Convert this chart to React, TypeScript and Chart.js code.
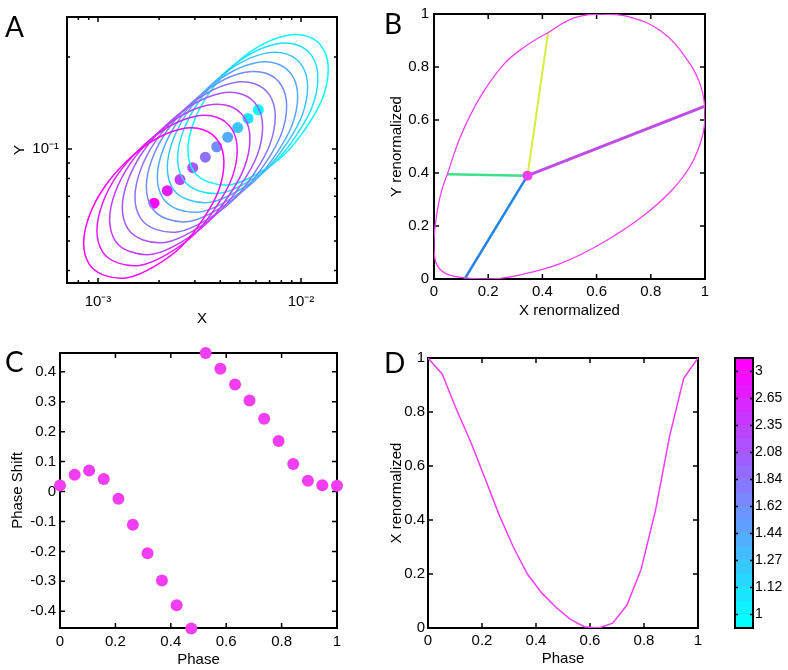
import React, { useEffect, useRef } from 'react';
import { Chart, registerables } from 'chart.js';

Chart.register(...registerables);

const FONT = "'Liberation Sans', Arial, Helvetica, sans-serif";
Chart.defaults.font.family = FONT;
Chart.defaults.font.size = 15;
Chart.defaults.color = '#000';

// ---------- Panel A (log-log limit cycles) ----------
const aCenterX = [0.001888, 0.002195, 0.002535, 0.002927, 0.003378, 0.003844, 0.004355, 0.004877, 0.00548, 0.006162];
const aCenterY = [0.06646, 0.07303, 0.07943, 0.08684, 0.09402, 0.1017, 0.1093, 0.1175, 0.1259, 0.1343];
// contour, as multiples of each cycle's centre
const aContourRatioX = [2.21, 2.08, 1.75, 1.36, 1.0, 0.74, 0.57, 0.48, 0.45, 0.48, 0.57, 0.74, 1.0, 1.36, 1.75, 2.08];
const aContourRatioY = [1.36, 1.59, 1.74, 1.75, 1.61, 1.38, 1.13, 0.91, 0.74, 0.63, 0.58, 0.57, 0.62, 0.72, 0.89, 1.1];
const aXTicks = [0.0008, 0.0009, 0.001, 0.002, 0.003, 0.004, 0.005, 0.006, 0.007, 0.008, 0.009, 0.01];
const aXTickLabels = ['', '', '10\u207B\u00B3', '', '', '', '', '', '', '', '', '10\u207B\u00B2'];
const aXMinorFlags = [true, true, false, true, true, true, true, true, true, true, true, false];
const aYTicks = [0.04, 0.05, 0.06, 0.07, 0.08, 0.09, 0.1, 0.2];
const aYTickLabels = ['', '', '', '', '', '', '10\u207B\u00B9', ''];
const aYMinorFlags = [true, true, true, true, true, true, false, true];

// ---------- Panel B ----------
const bCycleX = [0.0, 0.004, 0.016, 0.03, 0.049, 0.099, 0.172, 0.259, 0.34, 0.421, 0.517, 0.616, 0.714, 0.837, 0.936, 0.985, 1.0, 0.991, 0.948, 0.874, 0.764, 0.616, 0.468, 0.32, 0.21, 0.099, 0.037, 0.006];
const bCycleY = [0.13, 0.2, 0.28, 0.34, 0.395, 0.541, 0.689, 0.812, 0.88, 0.93, 0.985, 1.0, 0.991, 0.936, 0.825, 0.726, 0.627, 0.541, 0.43, 0.331, 0.232, 0.133, 0.059, 0.016, 0.0, 0.006, 0.024, 0.065];
const bCentre = { x: 0.345, y: 0.39 };
const bSpokeX = [0.049, 0.113, 1.0, 0.421];
const bSpokeY = [0.395, 0.0, 0.652, 0.93];
const bSpokeColors = ['#3fe08c', '#2384e6', '#c04ce6', '#d6ee3c'];
const bSpokeWidths = [2.5, 2.5, 3, 2];
const unitTicks = [0, 0.2, 0.4, 0.6, 0.8, 1];
const unitTickLabels = ['0', '0.2', '0.4', '0.6', '0.8', '1'];

// ---------- Panel C ----------
const phase = [0, 0.053, 0.105, 0.158, 0.211, 0.263, 0.316, 0.368, 0.421, 0.474, 0.526, 0.579, 0.632, 0.684, 0.737, 0.789, 0.842, 0.895, 0.947, 1];
const phaseShift = [0.02, 0.056, 0.07, 0.042, -0.024, -0.111, -0.206, -0.297, -0.38, -0.458, 0.463, 0.41, 0.358, 0.304, 0.243, 0.169, 0.092, 0.036, 0.021, 0.019];
const cYTicks = [-0.4, -0.3, -0.2, -0.1, 0, 0.1, 0.2, 0.3, 0.4];
const cYTickLabels = ['-0.4', '-0.3', '-0.2', '-0.1', '0', '0.1', '0.2', '0.3', '0.4'];

// ---------- Panel D ----------
const xRenormalized = [1.0, 0.94, 0.81, 0.69, 0.555, 0.42, 0.3, 0.2, 0.13, 0.077, 0.033, 0.005, 0.0, 0.018, 0.085, 0.217, 0.433, 0.711, 0.925, 1.0];

// ---------- Colour bar ----------
const cbBandCount = 20;
const cbTickPos = [1, 3, 5, 7, 9, 11, 13, 15, 17, 19];
const cbTickLabels = ['1', '1.12', '1.27', '1.44', '1.62', '1.84', '2.08', '2.35', '2.65', '3'];

const MAGENTA = 'rgb(242,62,242)';

function cool(f: number) {
  return `rgb(${Math.round(255 * f)},${Math.round(255 * (1 - f))},255)`;
}

const boxPlugin = {
  id: 'mbox',
  _draw(chart: any, opts: any) {
    const { ctx, chartArea: a } = chart;
    ctx.save();
    ctx.strokeStyle = '#000';
    ctx.lineWidth = opts.tickWidth ?? 1.5;
    const major = opts.tickLen ?? 5;
    const minor = opts.minorLen ?? 3;
    ctx.beginPath();
    if (opts.xTicks !== false) {
      const s = chart.scales.x;
      for (const t of s.ticks) {
        const p = s.getPixelForValue(t.value);
        const len = t.minor ? minor : major;
        ctx.moveTo(p, a.bottom);
        ctx.lineTo(p, a.bottom - len);
        ctx.moveTo(p, a.top);
        ctx.lineTo(p, a.top + len);
      }
    }
    if (opts.yTicks !== false) {
      const s = chart.scales.y;
      for (const t of s.ticks) {
        const p = s.getPixelForValue(t.value);
        const len = t.minor ? minor : major;
        ctx.moveTo(a.left, p);
        ctx.lineTo(a.left + len, p);
        ctx.moveTo(a.right, p);
        ctx.lineTo(a.right - len, p);
      }
    }
    ctx.stroke();
    ctx.lineWidth = opts.boxWidth ?? 2;
    ctx.strokeRect(a.left, a.top, a.right - a.left, a.bottom - a.top);
    ctx.restore();
  },
  beforeDatasetsDraw(chart: any, _args: any, opts: any) {
    if (opts && opts.enabled && !opts.after) (boxPlugin as any)._draw(chart, opts);
  },
  afterDatasetsDraw(chart: any, _args: any, opts: any) {
    if (opts && opts.enabled && opts.after) (boxPlugin as any)._draw(chart, opts);
  },
};
Chart.register(boxPlugin as any);

function loopDataset(xs: number[], ys: number[], color: string, width: number, tension: number) {
  const n = xs.length;
  const pts: { x: number; y: number }[] = [];
  for (let j = -1; j <= n + 1; j++) {
    const k = (j + n) % n;
    pts.push({ x: xs[k], y: ys[k] });
  }
  return {
    data: pts,
    showLine: true,
    borderColor: color,
    borderWidth: width,
    pointRadius: 0,
    tension,
    segment: {
      borderColor: (c: any) => (c.p0DataIndex === 0 || c.p0DataIndex === n + 1 ? 'rgba(0,0,0,0)' : undefined),
    },
  };
}

const baseOpts = (pad: any) => ({
  responsive: false,
  animation: false,
  events: [],
  layout: { padding: pad },
  plugins: { legend: { display: false }, tooltip: { enabled: false }, mbox: { enabled: true } },
});

const NO_GRID = { display: false, drawTicks: false, tickLength: 0 };

function linearAxis(opts: any) {
  return {
    type: 'linear',
    min: opts.min,
    max: opts.max,
    position: opts.position,
    grid: NO_GRID,
    border: { display: false },
    afterBuildTicks: (s: any) => {
      s.ticks = opts.ticks.map((v: number) => ({ value: v }));
    },
    ticks: { autoSkip: false, maxRotation: 0, padding: opts.tickPad, callback: (_v: any, i: number) => opts.labels[i] },
    title: opts.title
      ? { display: true, text: opts.title, padding: opts.titlePad, font: { size: 15 } }
      : { display: false },
    afterFit: (s: any) => {
      if (opts.size != null) {
        if (s.isHorizontal()) s.height = opts.size;
        else s.width = opts.size;
      }
    },
  };
}

function makeA() {
  const datasets: any[] = [];
  for (let i = 0; i < aCenterX.length; i++) {
    const f = 1 - i / (aCenterX.length - 1);
    const xs = aContourRatioX.map((r) => r * aCenterX[i]);
    const ys = aContourRatioY.map((r) => r * aCenterY[i]);
    datasets.push(loopDataset(xs, ys, cool(f), 1.5, 0.34));
  }
  datasets.push({
    data: aCenterX.map((x, i) => ({ x, y: aCenterY[i] })),
    pointRadius: 5.5,
    pointBorderWidth: 0,
    pointBackgroundColor: aCenterX.map((_, i) => cool(1 - i / (aCenterX.length - 1))),
    showLine: false,
  });
  return {
    type: 'scatter',
    data: { datasets },
    options: {
      ...baseOpts({ left: 0, top: 13, right: 57, bottom: 0 }),
      scales: {
        x: {
          type: 'logarithmic',
          min: 7.035e-4,
          max: 0.01504,
          grid: NO_GRID,
          border: { display: false },
          afterBuildTicks: (s: any) => {
            s.ticks = aXTicks.map((v, i) => ({ value: v, minor: aXMinorFlags[i] }));
          },
          ticks: { autoSkip: false, maxRotation: 0, padding: 10, callback: (_v: any, i: number) => aXTickLabels[i] },
          title: { display: true, text: 'X', padding: { top: 0, bottom: 2 }, font: { size: 15 } },
          afterFit: (s: any) => {
            s.height = 47;
          },
        },
        y: {
          type: 'logarithmic',
          min: 0.0364,
          max: 0.2705,
          grid: NO_GRID,
          border: { display: false },
          afterBuildTicks: (s: any) => {
            s.ticks = aYTicks.map((v, i) => ({ value: v, minor: aYMinorFlags[i] }));
          },
          ticks: { autoSkip: false, padding: 8, callback: (_v: any, i: number) => aYTickLabels[i] },
          title: { display: true, text: 'Y', padding: { top: 11, bottom: 0 }, font: { size: 15 } },
          afterFit: (s: any) => {
            s.width = 67;
          },
        },
      },
    },
  };
}

function makeB() {
  const datasets: any[] = [];
  datasets.push(loopDataset(bCycleX, bCycleY, MAGENTA, 1.3, 0.4));
  datasets.push({
    data: [bCentre],
    pointRadius: 5,
    pointBorderWidth: 0,
    pointBackgroundColor: MAGENTA,
    showLine: false,
  });
  bSpokeX.forEach((x, i) => {
    datasets.push({
      data: [bCentre, { x, y: bSpokeY[i] }],
      showLine: true,
      borderColor: bSpokeColors[i],
      borderWidth: bSpokeWidths[i],
      pointRadius: 0,
    });
  });
  return {
    type: 'scatter',
    data: { datasets },
    options: {
      ...baseOpts({ left: 0, top: 9, right: 83, bottom: 0 }),
      scales: {
        x: linearAxis({ min: 0, max: 1, ticks: unitTicks, labels: unitTickLabels, tickPad: 4, title: 'X renormalized', titlePad: { top: 0, bottom: 10 }, size: 51 }),
        y: linearAxis({ min: 0, max: 1, ticks: unitTicks, labels: unitTickLabels, tickPad: 5, title: 'Y renormalized', titlePad: { top: 4, bottom: 0 }, size: 50 }),
      },
    },
  };
}

function makeC() {
  return {
    type: 'scatter',
    data: {
      datasets: [
        {
          data: phase.map((x, i) => ({ x, y: phaseShift[i] })),
          pointRadius: 6,
          pointBorderWidth: 0,
          pointBackgroundColor: MAGENTA,
          showLine: false,
          clip: false,
        },
      ],
    },
    options: {
      ...baseOpts({ left: 0, top: 23, right: 57, bottom: 0 }),
      scales: {
        x: linearAxis({ min: 0, max: 1, ticks: unitTicks, labels: unitTickLabels, tickPad: 5, title: 'Phase', titlePad: { top: 0, bottom: 1 }, size: 42 }),
        y: linearAxis({ min: -0.456, max: 0.463, ticks: cYTicks, labels: cYTickLabels, tickPad: 4, title: 'Phase Shift', titlePad: { top: 9, bottom: 0 }, size: 60 }),
      },
    },
  };
}

function makeD() {
  return {
    type: 'scatter',
    data: {
      datasets: [
        {
          data: phase.map((x, i) => ({ x, y: xRenormalized[i] })),
          showLine: true,
          borderColor: MAGENTA,
          borderWidth: 1.5,
          pointRadius: 0,
        },
      ],
    },
    options: {
      ...baseOpts({ left: 0, top: 28, right: 16, bottom: 0 }),
      scales: {
        x: linearAxis({ min: 0, max: 1, ticks: unitTicks, labels: unitTickLabels, tickPad: 4, title: 'Phase', titlePad: { top: 0, bottom: 2 }, size: 42 }),
        y: linearAxis({ min: 0, max: 1, ticks: unitTicks, labels: unitTickLabels, tickPad: 3, title: 'X renormalized', titlePad: { top: 4, bottom: 0 }, size: 44 }),
      },
    },
  };
}

function makeColorbar() {
  const datasets: any[] = [];
  for (let k = 0; k < cbBandCount; k++) {
    datasets.push({
      data: [1],
      backgroundColor: cool(k / (cbBandCount - 1)),
      borderWidth: 0,
      barPercentage: 1,
      categoryPercentage: 1,
      stack: 'cb',
    });
  }
  return {
    type: 'bar',
    data: { labels: [''], datasets },
    options: {
      ...baseOpts({ left: 15, top: 28, right: 0, bottom: 42 }),
      plugins: { legend: { display: false }, tooltip: { enabled: false }, mbox: { enabled: true, after: true, xTicks: false, tickLen: 3 } },
      scales: {
        x: { stacked: true, display: false },
        y: {
          stacked: true,
          position: 'right',
          min: 0,
          max: cbBandCount,
          grid: NO_GRID,
          border: { display: false },
          afterBuildTicks: (s: any) => {
            s.ticks = cbTickPos.map((v) => ({ value: v }));
          },
          ticks: { autoSkip: false, padding: 2, font: { size: 14 }, callback: (_v: any, i: number) => cbTickLabels[i] },
          afterFit: (s: any) => {
            s.width = 35;
          },
        },
      },
    },
  };
}

function ChartBox(props: { left: number; top: number; width: number; height: number; make: () => any }) {
  const ref = useRef<HTMLCanvasElement>(null);
  useEffect(() => {
    const chart = new Chart(ref.current as HTMLCanvasElement, props.make());
    return () => chart.destroy();
  }, []);
  return (
    <div style={{ position: 'absolute', left: props.left, top: props.top, width: props.width, height: props.height }}>
      <canvas ref={ref} width={props.width} height={props.height} style={{ display: 'block' }} />
    </div>
  );
}

function Letter(props: { text: string; left: number; top: number }) {
  return (
    <div
      style={{
        position: 'absolute',
        left: props.left,
        top: props.top,
        fontFamily: "Lato, 'Open Sans', sans-serif",
        fontSize: 28,
        lineHeight: '28px',
        color: '#000',
      }}
    >
      {props.text}
    </div>
  );
}

export default function App() {
  return (
    <div style={{ position: 'absolute', left: 0, top: 0, width: 788, height: 670, background: '#fff', overflow: 'hidden' }}>
      <ChartBox left={0} top={0} width={394} height={330} make={makeA} />
      <ChartBox left={384} top={0} width={404} height={330} make={makeB} />
      <ChartBox left={0} top={330} width={394} height={340} make={makeC} />
      <ChartBox left={384} top={330} width={330} height={340} make={makeD} />
      <ChartBox left={720} top={330} width={68} height={340} make={makeColorbar} />
      <Letter text="A" left={5} top={12} />
      <Letter text="B" left={384} top={9} />
      <Letter text="C" left={5} top={347} />
      <Letter text="D" left={384} top={348} />
    </div>
  );
}
